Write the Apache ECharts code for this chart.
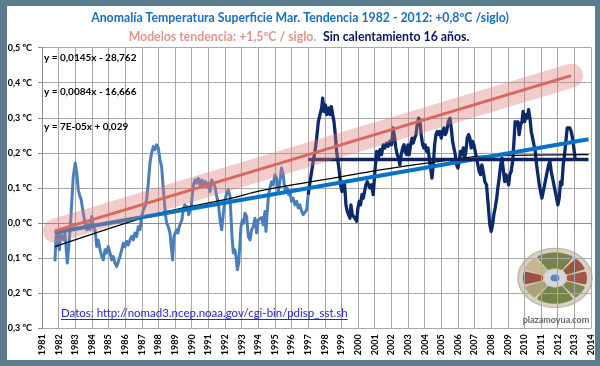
<!DOCTYPE html>
<html><head><meta charset="utf-8">
<script src="https://cdn.jsdelivr.net/npm/echarts@6/dist/echarts.min.js"></script>
<style>
html,body{margin:0;padding:0;background:#5a7c8c;}
#wrap{position:relative;width:600px;height:366px;background:#5a7c8c;overflow:hidden}
#inner{position:absolute;left:7px;top:6px;width:588px;height:354px;background:#fff}
#chart{position:absolute;left:0;top:0;width:600px;height:366px}
</style></head><body>
<div id="wrap"><div id="inner"></div><div id="chart"></div></div>
<script>
// ---- Data (decimal years, anomaly ºC) ----
const lightYears = [1981.78,1981.84,1981.92,1982.04,1982.12,1982.28,1982.38,1982.52,1982.64,1982.74,1982.88,1983.00,1983.09,1983.18,1983.28,1983.34,1983.45,1983.58,1983.69,1983.78,1983.88,1983.99,1984.08,1984.19,1984.29,1984.38,1984.49,1984.59,1984.68,1984.79,1984.89,1984.98,1985.09,1985.19,1985.28,1985.39,1985.49,1985.59,1985.69,1985.79,1985.89,1985.99,1986.09,1986.19,1986.29,1986.39,1986.49,1986.59,1986.69,1986.79,1986.89,1986.99,1987.09,1987.19,1987.29,1987.39,1987.49,1987.59,1987.69,1987.79,1987.89,1987.99,1988.09,1988.19,1988.25,1988.33,1988.41,1988.49,1988.59,1988.69,1988.75,1988.85,1988.93,1989.01,1989.09,1989.17,1989.25,1989.34,1989.41,1989.49,1989.58,1989.66,1989.73,1989.82,1989.89,1989.97,1990.06,1990.13,1990.21,1990.30,1990.39,1990.50,1990.60,1990.69,1990.80,1990.90,1990.99,1991.10,1991.20,1991.29,1991.40,1991.50,1991.60,1991.70,1991.80,1991.90,1992.00,1992.10,1992.20,1992.30,1992.36,1992.42,1992.50,1992.60,1992.66,1992.74,1992.82,1992.90,1992.96,1993.04,1993.12,1993.20,1993.30,1993.40,1993.50,1993.60,1993.70,1993.80,1993.90,1994.00,1994.10,1994.20,1994.30,1994.40,1994.46,1994.54,1994.62,1994.70,1994.80,1994.90,1995.00,1995.10,1995.20,1995.30,1995.40,1995.50,1995.56,1995.64,1995.74,1995.83,1995.90,1996.00,1996.10,1996.20,1996.31,1996.40,1996.50,1996.61,1996.70,1996.81,1996.91,1997.00];
const lightValues = [-0.109,-0.038,-0.028,-0.076,-0.030,-0.048,-0.028,-0.114,-0.048,0.019,0.133,0.171,0.142,0.095,0.076,0.070,0.038,0.000,-0.019,-0.005,-0.019,0.019,-0.010,-0.020,-0.067,-0.048,-0.076,-0.095,-0.105,-0.076,-0.085,-0.067,-0.085,-0.105,-0.095,-0.114,-0.124,-0.119,-0.095,-0.076,-0.057,-0.067,-0.052,-0.062,-0.048,-0.038,-0.048,-0.028,-0.038,-0.010,-0.019,0.019,0.038,0.047,0.066,0.114,0.171,0.200,0.218,0.209,0.223,0.214,0.180,0.161,0.123,0.076,0.028,0.000,-0.010,-0.028,-0.057,-0.105,-0.038,-0.038,-0.019,-0.028,-0.010,-0.014,0.009,0.038,0.052,0.038,0.047,0.024,0.019,0.047,0.095,0.114,0.123,0.114,0.128,0.109,0.123,0.104,0.119,0.104,0.114,0.090,0.123,0.114,0.104,0.076,0.057,0.009,-0.019,0.028,0.066,0.085,0.095,0.076,0.019,-0.038,-0.085,-0.076,-0.095,-0.133,-0.114,-0.057,-0.010,0.009,0.000,0.028,0.019,-0.038,-0.048,-0.019,-0.010,0.014,-0.028,0.009,0.010,0.016,-0.005,0.033,-0.024,0.033,0.081,0.100,0.118,0.109,0.138,0.128,0.090,0.118,0.157,0.138,0.109,0.090,0.100,0.081,0.090,0.062,0.071,0.052,0.062,0.043,0.052,0.033,0.024,0.024,0.038,0.081];

const darkYears = [1997.00,1997.11,1997.21,1997.30,1997.41,1997.51,1997.61,1997.71,1997.81,1997.87,1997.95,1998.03,1998.11,1998.21,1998.31,1998.39,1998.47,1998.55,1998.63,1998.71,1998.79,1998.87,1998.95,1999.03,1999.11,1999.19,1999.27,1999.35,1999.43,1999.51,1999.57,1999.65,1999.73,1999.81,1999.91,1999.99,2000.07,2000.15,2000.23,2000.31,2000.39,2000.47,2000.55,2000.63,2000.71,2000.81,2000.91,2001.01,2001.11,2001.21,2001.31,2001.41,2001.51,2001.61,2001.71,2001.81,2001.91,2002.01,2002.11,2002.20,2002.27,2002.35,2002.44,2002.51,2002.59,2002.68,2002.76,2002.83,2002.92,2003.00,2003.07,2003.16,2003.24,2003.31,2003.40,2003.48,2003.55,2003.64,2003.72,2003.79,2003.88,2003.96,2004.03,2004.12,2004.20,2004.28,2004.36,2004.44,2004.52,2004.60,2004.68,2004.76,2004.84,2004.92,2005.00,2005.08,2005.16,2005.24,2005.32,2005.42,2005.52,2005.60,2005.68,2005.76,2005.84,2005.92,2006.00,2006.08,2006.16,2006.24,2006.32,2006.40,2006.48,2006.56,2006.64,2006.72,2006.80,2006.88,2006.96,2007.04,2007.12,2007.20,2007.28,2007.36,2007.44,2007.52,2007.62,2007.72,2007.82,2007.92,2008.00,2008.08,2008.16,2008.24,2008.33,2008.40,2008.48,2008.57,2008.65,2008.72,2008.81,2008.88,2008.96,2009.05,2009.12,2009.20,2009.29,2009.37,2009.44,2009.53,2009.61,2009.68,2009.77,2009.85,2009.92,2010.01,2010.09,2010.16,2010.25,2010.33,2010.41,2010.49,2010.57,2010.65,2010.73,2010.81,2010.89,2010.97,2011.05,2011.13,2011.21,2011.29,2011.37,2011.45,2011.53,2011.61,2011.69,2011.77,2011.85,2011.93,2012.01,2012.09,2012.17,2012.25,2012.33,2012.41,2012.49,2012.57,2012.65,2012.73,2012.81,2012.89,2012.97,2013.05];
const darkValues = [0.081,0.118,0.147,0.176,0.204,0.242,0.289,0.309,0.328,0.356,0.318,0.337,0.309,0.328,0.309,0.332,0.309,0.289,0.252,0.204,0.176,0.147,0.109,0.090,0.118,0.109,0.052,0.033,0.024,0.014,0.052,0.024,0.019,0.014,0.005,0.043,0.062,0.052,0.081,0.071,0.090,0.109,0.118,0.109,0.100,0.109,0.081,0.147,0.204,0.185,0.209,0.195,0.223,0.214,0.228,0.219,0.233,0.223,0.271,0.242,0.214,0.195,0.185,0.166,0.195,0.214,0.223,0.204,0.195,0.223,0.195,0.223,0.242,0.228,0.242,0.252,0.280,0.299,0.289,0.252,0.223,0.214,0.223,0.204,0.214,0.185,0.157,0.128,0.166,0.223,0.252,0.261,0.252,0.261,0.242,0.261,0.271,0.252,0.261,0.289,0.299,0.271,0.233,0.214,0.195,0.166,0.157,0.176,0.204,0.195,0.214,0.185,0.204,0.242,0.252,0.242,0.214,0.233,0.223,0.204,0.185,0.166,0.147,0.138,0.166,0.147,0.118,0.109,0.052,-0.005,-0.024,-0.005,0.024,0.043,0.071,0.100,0.128,0.166,0.185,0.185,0.118,0.138,0.128,0.109,0.138,0.147,0.176,0.233,0.289,0.280,0.289,0.252,0.280,0.289,0.318,0.289,0.309,0.299,0.323,0.299,0.261,0.242,0.223,0.204,0.166,0.138,0.109,0.090,0.071,0.090,0.109,0.128,0.147,0.166,0.176,0.147,0.128,0.109,0.090,0.071,0.052,0.071,0.118,0.109,0.166,0.195,0.233,0.271,0.275,0.271,0.261,0.242,0.214,0.180];

// trend lines
const modelTrendYears = [1981.78, 2012.8];
const modelTrendValues = [-0.022, 0.420];
const linTrendYears = [1981.75, 2013.85];
const linTrendValues = [-0.027, 0.239];
const polyTrendYears = [1981.78, 1987.69, 1989.5, 1992.4, 1994.1, 1999.1, 2001.0, 2005.1, 2007.3, 2013.85];
const polyTrendValues = [-0.067, 0.024, 0.043, 0.071, 0.092, 0.133, 0.149, 0.177, 0.190, 0.195];
const flatYears = [1997.0, 2013.85];
const flatValues = [0.181, 0.181];

// axis ticks / labels
const yTicks = [-0.3,-0.2,-0.1,0.0,0.1,0.2,0.3,0.4,0.5];
const yTickLabels = ['0,3 ºC','0,2 ºC','0,1 ºC','0,0 ºC','0,1 ºC','0,2 ºC','0,3 ºC','0,4 ºC','0,5 ºC'];
const xYears = [];
for (let y = 1981; y <= 2014; y++) xYears.push(y);

const equations = ['y = 0,0145x - 28,762', 'y = 0,0084x - 16,666', 'y = 7E-05x + 0,029'];
const titleLine1 = 'Anomalía Temperatura Superficie Mar. Tendencia 1982 - 2012: +0,8ºC /siglo)';
const titleLine2a = 'Modelos tendencia: +1,5ºC / siglo.';
const titleLine2b = 'Sin calentamiento 16 años.';
const sourceText = 'Datos: http://nomad3.ncep.noaa.gov/cgi-bin/pdisp_sst.sh';
const logoText = 'plazamoyua.com';

const zip = (xs, ys) => xs.map((x, i) => [x, ys[i]]);
const FONT = 'Lato, "Open Sans", sans-serif';

const cv = document.createElement('canvas').getContext('2d');
cv.font = '11.5px Lato';
const srcW = cv.measureText(sourceText).width;

const chart = echarts.init(document.getElementById('chart'), null, {renderer: 'canvas'});

function sector(a0, a1, color) {
  const d = Math.PI / 180;
  return {type: 'sector', shape: {cx: 0, cy: 0, r0: 12, r: 32, startAngle: a0 * d, endAngle: a1 * d, cornerRadius: 2},
    style: {fill: color, stroke: 'rgba(120,110,100,0.4)', lineWidth: 0.5}};
}

const option = {
  backgroundColor: 'transparent',
  animation: false,
  textStyle: {fontFamily: FONT},
  grid: {left: 42, right: 9, top: 47.6, bottom: 37.6, containLabel: false},
  xAxis: {
    type: 'value', min: 1981, max: 2014, interval: 1,
    axisLine: {show: true, lineStyle: {color: '#8c8c8c', width: 1}},
    axisTick: {show: true, length: 4, lineStyle: {color: '#8c8c8c'}},
    splitLine: {show: true, lineStyle: {color: '#a8a8a8', width: 1}},
    axisLabel: {rotate: 90, fontSize: 9, fontWeight: 'bold', color: '#000', margin: 6, fontFamily: FONT,
      formatter: v => String(xYears[Math.round(v - 1981)])}
  },
  yAxis: {
    type: 'value', min: -0.3, max: 0.5, interval: 0.1,
    axisLine: {show: true, lineStyle: {color: '#8c8c8c', width: 1}},
    axisTick: {show: true, length: 4, lineStyle: {color: '#8c8c8c'}},
    splitLine: {show: true, lineStyle: {color: '#a8a8a8', width: 1}},
    axisLabel: {fontSize: 9, fontWeight: 'bold', color: '#000', margin: 10, fontFamily: FONT,
      formatter: v => yTickLabels[Math.round((v - yTicks[0]) * 10)]}
  },
  series: [
    {name: 'SST 1981-1997', type: 'line', data: zip(lightYears, lightValues), showSymbol: false, symbol: 'none',
      lineStyle: {color: '#4a7ebb', width: 3, join: 'round'}, z: 2},
    {name: 'SST 1997-2013', type: 'line', data: zip(darkYears, darkValues), showSymbol: false, symbol: 'none',
      lineStyle: {color: '#0c2a6a', width: 3.3, join: 'round'}, z: 3},
    {name: 'poly', type: 'line', data: zip(polyTrendYears, polyTrendValues), smooth: 0.35, showSymbol: false, symbol: 'none',
      lineStyle: {color: '#000', width: 1.3}, z: 4},
    {name: 'lin', type: 'line', data: zip(linTrendYears, linTrendValues), showSymbol: false, symbol: 'none',
      lineStyle: {color: '#0a72c6', width: 4}, z: 5},
    {name: 'flat', type: 'line', data: zip(flatYears, flatValues), showSymbol: false, symbol: 'none',
      lineStyle: {color: '#0d2462', width: 3.5}, z: 6},
    {name: 'band', type: 'line', data: zip(modelTrendYears, modelTrendValues), showSymbol: false, symbol: 'none', clip: false,
      lineStyle: {color: 'rgba(222,120,115,0.38)', width: 24, cap: 'round'}, z: 7},
    {name: 'model', type: 'line', data: zip(modelTrendYears, modelTrendValues), showSymbol: false, symbol: 'none',
      lineStyle: {color: '#d8685e', width: 3}, z: 8}
  ],
  graphic: [
    {type: 'text', x: 300, y: 18, z: 10, style: {text: titleLine1, align: 'center', verticalAlign: 'middle',
      font: 'bold 12.3px ' + FONT, fill: '#1a6fc0'}},
    {type: 'text', x: 299, y: 37, z: 10, style: {
      text: '{a|' + titleLine2a + '}  {b|' + titleLine2b + '}', align: 'center', verticalAlign: 'middle',
      rich: {a: {fontSize: 12.3, fontWeight: 'bold', fontFamily: FONT, fill: '#e2958e', color: '#e2958e'},
             b: {fontSize: 12.3, fontWeight: 'bold', fontFamily: FONT, fill: '#0a1560', color: '#0a1560'}}}},
    {type: 'text', x: 44, y: 58, z: 10, style: {text: equations[0], verticalAlign: 'middle', font: 'bold 10px ' + FONT, fill: '#000'}},
    {type: 'text', x: 44, y: 92, z: 10, style: {text: equations[1], verticalAlign: 'middle', font: 'bold 10px ' + FONT, fill: '#000'}},
    {type: 'text', x: 44, y: 127, z: 10, style: {text: equations[2], verticalAlign: 'middle', font: 'bold 10px ' + FONT, fill: '#000'}},
    {type: 'text', x: 61, y: 313, z: 10, style: {text: sourceText, verticalAlign: 'middle', font: '11.5px Lato', fill: '#2626cc'}},
    {type: 'rect', x: 61, y: 319, z: 10, shape: {width: srcW, height: 1}, style: {fill: '#2626cc'}},
    {type: 'group', x: 555, y: 278, scaleY: 0.8, z: 10, children: [
      {type: 'circle', shape: {cx: 0, cy: 0, r: 37}, style: {fill: '#d9d0c2', stroke: '#bdb5ab', lineWidth: 1.5}},
      sector(-125, -55, '#76834a'),
      sector(-50, -20, '#9a5443'),
      sector(-15, 15, '#a3564a'),
      sector(20, 50, '#7c8650'),
      sector(55, 125, '#76834a'),
      sector(130, 160, '#a9a27a'),
      sector(165, 195, '#9d5044'),
      sector(200, 230, '#c8b596'),
      {type: 'circle', shape: {cx: 0, cy: 0, r: 10}, style: {fill: '#d3d9de'}},
      {type: 'circle', shape: {cx: 0, cy: 0, r: 4.5}, style: {fill: '#5b86b8'}}
    ]},
    {type: 'text', x: 556, y: 320, z: 10, style: {text: logoText, align: 'center', verticalAlign: 'middle', font: 'bold 9px ' + FONT, fill: '#666'}}
  ]
};
chart.setOption(option);
</script>
</body></html>
